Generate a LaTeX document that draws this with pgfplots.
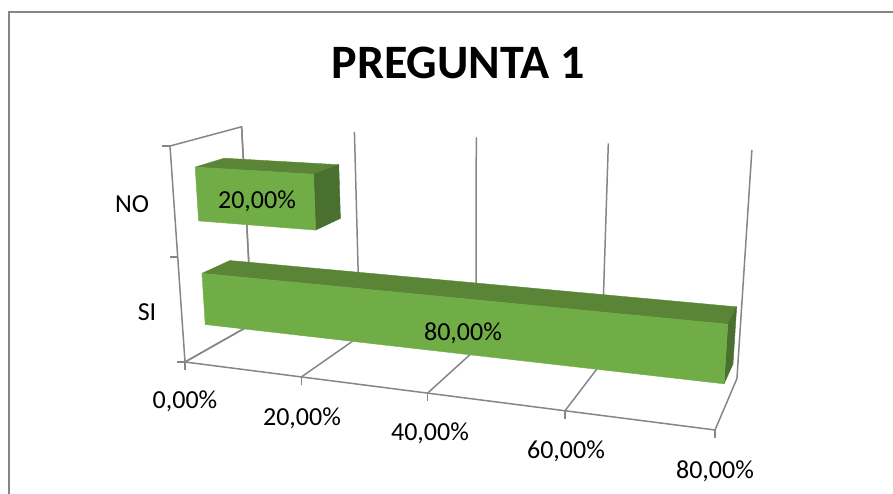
\documentclass[border=0pt]{standalone}
\usepackage{fontspec}
\setmainfont{Carlito}
\usepackage{pgfplots}
\pgfplotsset{compat=1.18}

\definecolor{linea}{HTML}{868686}
\definecolor{frente}{HTML}{70AD47}
\definecolor{arriba}{HTML}{5A8537}
\definecolor{lado}{HTML}{4A702F}

% v = value in %, d = depth 0..1, h = height 0..1, drawn through the perspective of the reference
\pgfkeys{/pgfplots/table/persp/.style={row sep=\\,
    x expr={projx(\thisrow{v},\thisrow{d},\thisrow{h})+\thisrow{ox}},
    y expr={projy(\thisrow{v},\thisrow{d},\thisrow{h})+\thisrow{oy}}}}
\newcommand{\trazo}[1]{\addplot[draw=linea,line width=1.5pt,line join=round] table[persp] {v d h ox oy\\ #1};}
\newcommand{\cara}[2]{\addplot[draw=#1,line width=0.4pt,line join=round,fill=#1] table[persp] {v d h ox oy\\ #2};}
% value, low height, high height
\newcommand{\barra}[3]{%
  \cara{arriba}{0 .305 #3 0 0\\ 0 .715 #3 0 0\\ #1 .715 #3 0 0\\ #1 .305 #3 0 0\\ 0 .305 #3 0 0\\}
  \cara{lado}{#1 .305 #3 0 0\\ #1 .715 #3 0 0\\ #1 .715 #2 0 0\\ #1 .305 #2 0 0\\ #1 .305 #3 0 0\\}
  \cara{frente}{0 .305 #2 0 0\\ #1 .305 #2 0 0\\ #1 .305 #3 0 0\\ 0 .305 #3 0 0\\ 0 .305 #2 0 0\\}
}
\newcommand{\rejilla}[1]{%
  \trazo{#1 0 0 0 0\\ #1 1 0 0 0\\ #1 1 1 0 0\\}
  \trazo{#1 0 0 0 0\\ #1 0 0 0 8\\}
}
\tikzset{rotulo/.style={font=\fontsize{26}{26}\selectfont,text=black,inner sep=0pt}}

\begin{document}
\begin{tikzpicture}
\begin{axis}[
  scale only axis, width=893pt, height=493pt,
  xmin=0, xmax=893, ymin=0, ymax=493, y dir=reverse,
  axis lines=none, clip=true,
  declare function={
    den(\v,\d,\h)=1-0.156*\v/80+0.1*\d-0.05*\h;
    projx(\v,\d,\h)=(185+418.5*\v/80+92.2*\d-23.5*\h)/den(\v,\d,\h);
    projy(\v,\d,\h)=(362+0.9*\v/80-5.6*\d-223.3*\h)/den(\v,\d,\h);
  },
]
% chart frame
\addplot[draw=linea,line width=2pt] coordinates {(9,500) (9,12) (900,12)};

% walls and floor
\trazo{0 0 0 0 0\\ 0 0 1 0 0\\ 0 1 1 0 0\\ 0 1 0 0 0\\ 0 0 0 0 0\\}
\trazo{0 0 0 0 0\\ 80 0 0 0 0\\}
\rejilla{0}
\rejilla{20}
\rejilla{40}
\rejilla{60}
\rejilla{80}
\trazo{0 0 0 0 0\\ 0 0 0 -8 0\\}
\trazo{0 0 .5 0 0\\ 0 0 .5 -8 0\\}
\trazo{0 0 1 0 0\\ 0 0 1 -8 0\\}

% bars
\barra{20}{.625}{.875}
\barra{80}{.125}{.375}

% texts
\node[rotulo,font=\fontsize{48}{48}\selectfont\bfseries] at (axis cs:458,63) {PREGUNTA 1};
\node[rotulo] at (axis cs:132,204) {NO};
\node[rotulo] at (axis cs:147,312) {SI};
\node[rotulo] at (axis cs:185,401) {0,00\%};
\node[rotulo] at (axis cs:302,418) {20,00\%};
\node[rotulo] at (axis cs:430,433) {40,00\%};
\node[rotulo] at (axis cs:566,451) {60,00\%};
\node[rotulo] at (axis cs:715,471) {80,00\%};
\node[rotulo] at (axis cs:257,201) {20,00\%};
\node[rotulo] at (axis cs:463,333) {80,00\%};
\end{axis}
\path (current axis.south west) rectangle (current axis.north east);
\end{tikzpicture}
\end{document}
